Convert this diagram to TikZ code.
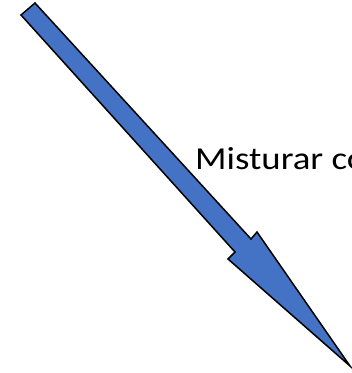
\documentclass[tikz,border=0pt]{standalone}
\usepackage{fontspec}
\setmainfont{Carlito}
\definecolor{arrowblue}{HTML}{4472C4}
\tikzset{
  bigarrow/.style={fill=arrowblue, draw=black, line width=1.5pt, line join=miter},
  label/.style={font=\fontsize{32}{36}\selectfont, inner sep=0pt, anchor=base west, xscale=1.15}
}
\begin{document}
\begin{tikzpicture}[x=1pt,y=1pt]
\useasboundingbox (0,0) rectangle (352,373);
\clip (0,0) rectangle (352,373);
\draw[bigarrow] (21,358) -- (35,370) -- (251,134) -- (257,141) -- (350,7) -- (228,114) -- (235,121) -- cycle;
\node[label] (txt) at (195,203.5) {Misturar co};
\end{tikzpicture}
\end{document}
